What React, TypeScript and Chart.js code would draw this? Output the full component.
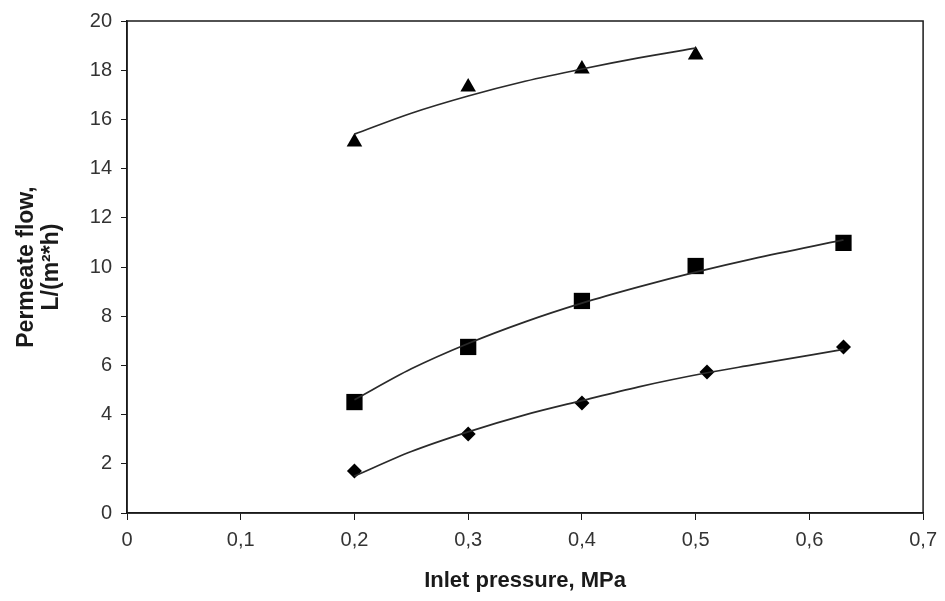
import React, { useEffect, useRef } from "react";
import { Chart, registerables } from "chart.js";

Chart.register(...registerables);

// Measured points
const triX = [0.2, 0.3, 0.4, 0.5];
const triY = [15.08, 17.32, 18.05, 18.62];
const sqX = [0.2, 0.3, 0.4, 0.5, 0.63];
const sqY = [4.51, 6.75, 8.62, 10.04, 10.98];
const diaX = [0.2, 0.3, 0.4, 0.51, 0.63];
const diaY = [1.71, 3.21, 4.47, 5.73, 6.75];

// Trend lines
const triTrendX = [0.2, 0.25, 0.3, 0.35, 0.4, 0.45, 0.5];
const triTrendY = [15.4, 16.25, 16.95, 17.55, 18.05, 18.5, 18.9];
const sqTrendX = [0.2, 0.25, 0.3, 0.35, 0.4, 0.45, 0.5, 0.55, 0.63];
const sqTrendY = [4.6, 5.86, 6.89, 7.77, 8.53, 9.19, 9.79, 10.33, 11.1];
const diaTrendX = [0.2, 0.25, 0.3, 0.35, 0.4, 0.45, 0.51, 0.55, 0.63];
const diaTrendY = [1.5, 2.5, 3.3, 3.99, 4.57, 5.13, 5.7, 6.02, 6.65];

const xTickLabels = ["0", "0,1", "0,2", "0,3", "0,4", "0,5", "0,6", "0,7"];
const xTitle = "Inlet pressure, MPa";
const yTitle = ["Permeate flow,", "L/(m²*h)"];

const INK = "#1a1a1a";
const FONT = "'Liberation Sans', Arial, sans-serif";

const zip = (xs: number[], ys: number[]) => xs.map((x, i) => ({ x, y: ys[i] }));

const framePlugin = {
  id: "frame",
  afterDatasetsDraw(chart: any) {
    const { ctx, chartArea } = chart;
    ctx.save();
    ctx.strokeStyle = INK;
    ctx.lineWidth = 1.5;
    ctx.strokeRect(chartArea.left, chartArea.top, chartArea.right - chartArea.left, chartArea.bottom - chartArea.top);
    ctx.restore();
  },
};

export default function App() {
  const ref = useRef<HTMLCanvasElement>(null);
  useEffect(() => {
    if (!ref.current) return;
    const trend = (xs: number[], ys: number[]) => ({
      data: zip(xs, ys),
      showLine: true,
      borderColor: "#2a2a2a",
      borderWidth: 1.7,
      pointRadius: 0,
      cubicInterpolationMode: "monotone" as const,
      fill: false,
    });
    const marks = (xs: number[], ys: number[], style: string, r: number) => ({
      data: zip(xs, ys),
      showLine: false,
      pointStyle: style,
      pointRadius: r,
      pointBackgroundColor: "#000",
      pointBorderColor: "#000",
      pointBorderWidth: 0,
    });
    const chart = new Chart(ref.current, {
      type: "scatter",
      data: {
        datasets: [
          trend(triTrendX, triTrendY),
          trend(sqTrendX, sqTrendY),
          trend(diaTrendX, diaTrendY),
          marks(triX, triY, "triangle", 9),
          marks(sqX, sqY, "rect", 11.5),
          marks(diaX, diaY, "rectRot", 7.5),
        ] as any,
      },
      options: {
        animation: false,
        responsive: false,
        layout: { padding: { left: 0, top: 21, right: 17, bottom: 0 } },
        plugins: { legend: { display: false }, tooltip: { enabled: false } },
        scales: {
          x: {
            type: "linear",
            min: 0,
            max: 0.7,
            ticks: {
              stepSize: 0.1,
              color: "#333",
              font: { family: FONT, size: 20 },
              padding: 8,
              maxRotation: 0,
              callback: (_v: any, i: number) => xTickLabels[i],
            },
            grid: { drawOnChartArea: false, drawTicks: true, tickLength: 7, color: INK },
            border: { display: true, color: INK, width: 1.5 },
            title: {
              display: true,
              text: xTitle,
              color: INK,
              font: { family: FONT, size: 22, weight: "bold", lineHeight: 1.2 },
              padding: { top: 0, bottom: 7 },
            },
            afterFit: (s: any) => {
              s.height = 88;
            },
          },
          y: {
            type: "linear",
            min: 0,
            max: 20,
            ticks: {
              stepSize: 2,
              color: "#333",
              font: { family: FONT, size: 20 },
              padding: 9,
            },
            grid: { drawOnChartArea: false, drawTicks: true, tickLength: 6, color: INK },
            border: { display: true, color: INK, width: 1.5 },
            title: {
              display: true,
              text: yTitle,
              color: INK,
              font: { family: FONT, size: 23, weight: "bold", lineHeight: 1.1 },
              padding: { top: 14, bottom: 0 },
            },
            afterFit: (s: any) => {
              s.width = 127;
            },
          },
        },
      },
      plugins: [framePlugin],
    } as any);
    return () => chart.destroy();
  }, []);
  return (
    <div style={{ position: "fixed", left: 0, top: 0, width: 945, height: 601, background: "#fff" }}>
      <canvas ref={ref} width={945} height={601} style={{ width: 945, height: 601 }} />
    </div>
  );
}
